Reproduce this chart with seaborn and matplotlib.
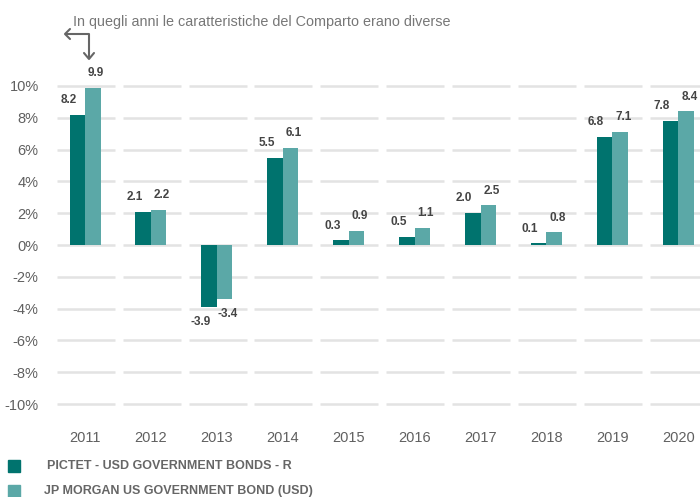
import matplotlib
matplotlib.use("Agg")
import matplotlib.pyplot as plt
import seaborn as sns
import pandas as pd
import numpy as np

years = ["2011", "2012", "2013", "2014", "2015", "2016", "2017", "2018", "2019", "2020"]
fund_name = "PICTET - USD GOVERNMENT BONDS - R"
bench_name = "JP MORGAN US GOVERNMENT BOND (USD)"
fund_values = [8.2, 2.1, -3.9, 5.5, 0.3, 0.5, 2.0, 0.1, 6.8, 7.8]
bench_values = [9.9, 2.2, -3.4, 6.1, 0.9, 1.1, 2.5, 0.8, 7.1, 8.4]
y_ticks = [-10, -8, -6, -4, -2, 0, 2, 4, 6, 8, 10]
note_text = "In quegli anni le caratteristiche del Comparto erano diverse"

fund_color = "#00736E"
bench_color = "#5BA8A7"
text_color = "#606060"
label_color = "#444444"

sns.set_theme(style="white")
plt.rcParams["font.family"] = ["Liberation Sans", "DejaVu Sans"]

df = pd.DataFrame({
    "year": years * 2,
    "value": fund_values + bench_values,
    "series": [fund_name] * len(years) + [bench_name] * len(years),
})

fig = plt.figure(figsize=(7.0, 4.97), dpi=100)
ax = fig.add_axes([0.081, 0.171, 0.919, 0.720])

sns.barplot(data=df, x="year", y="value", hue="series", order=years,
            hue_order=[fund_name, bench_name],
            palette=[fund_color, bench_color], width=0.47, gap=0,
            saturation=1, legend=False, linewidth=0, ax=ax, zorder=3)

ax.set_xlim(-0.43, 9.33)
ax.set_ylim(-10.5, 12)

# segmented horizontal gridlines, one piece per year
for t in y_ticks:
    for i in range(len(years)):
        ax.hlines(t, i - 0.43, i + 0.45, color="#e3e3e3", lw=1.8, zorder=1)

for s in ax.spines.values():
    s.set_visible(False)

ax.set_yticks(y_ticks)
ax.set_yticklabels([f"{t}%" for t in y_ticks])
ax.tick_params(axis="y", length=0, pad=13, labelsize=10.5, labelcolor=text_color)
ax.tick_params(axis="x", length=0, pad=14, labelsize=10.5, labelcolor=text_color)
ax.set_xlabel("")
ax.set_ylabel("")

# value labels
bw = 0.47 / 2
for i in range(len(years)):
    for v, off in ((fund_values[i], -bw / 2 - 0.13), (bench_values[i], bw / 2 + 0.05)):
        if v >= 0:
            ax.text(i + off, v + 0.55, f"{v:.1f}", ha="center", va="bottom",
                    fontsize=8.5, fontweight="bold", color=label_color)
        else:
            ax.text(i + off, v - 0.55, f"{v:.1f}", ha="center", va="top",
                    fontsize=8.5, fontweight="bold", color=label_color)

# note with elbow arrow
fig.text(73 / 700, 1 - 22 / 497, note_text, ha="left", va="center",
         fontsize=10.4, color="#777777")
ax_over = fig.add_axes([0, 0, 1, 1], facecolor="none")
ax_over.set_xlim(0, 700)
ax_over.set_ylim(497, 0)
ax_over.axis("off")
ax_over.plot([66, 89, 89], [34, 34, 58], color="#666666", lw=1.5)
ax_over.plot([70, 65, 70], [29, 34, 39], color="#666666", lw=1.5)
ax_over.plot([84, 89, 94], [53, 59, 53], color="#666666", lw=1.5)

# legend
ax_over.add_patch(plt.Rectangle((8, 460), 12, 12, color=fund_color))
ax_over.add_patch(plt.Rectangle((8, 485), 12, 12, color=bench_color))
ax_over.text(47, 466, fund_name, ha="left", va="center", fontsize=9,
             fontweight="bold", color="#666666")
ax_over.text(44, 491, bench_name, ha="left", va="center", fontsize=9,
             fontweight="bold", color="#666666")

fig.savefig("out.png", dpi=100)
